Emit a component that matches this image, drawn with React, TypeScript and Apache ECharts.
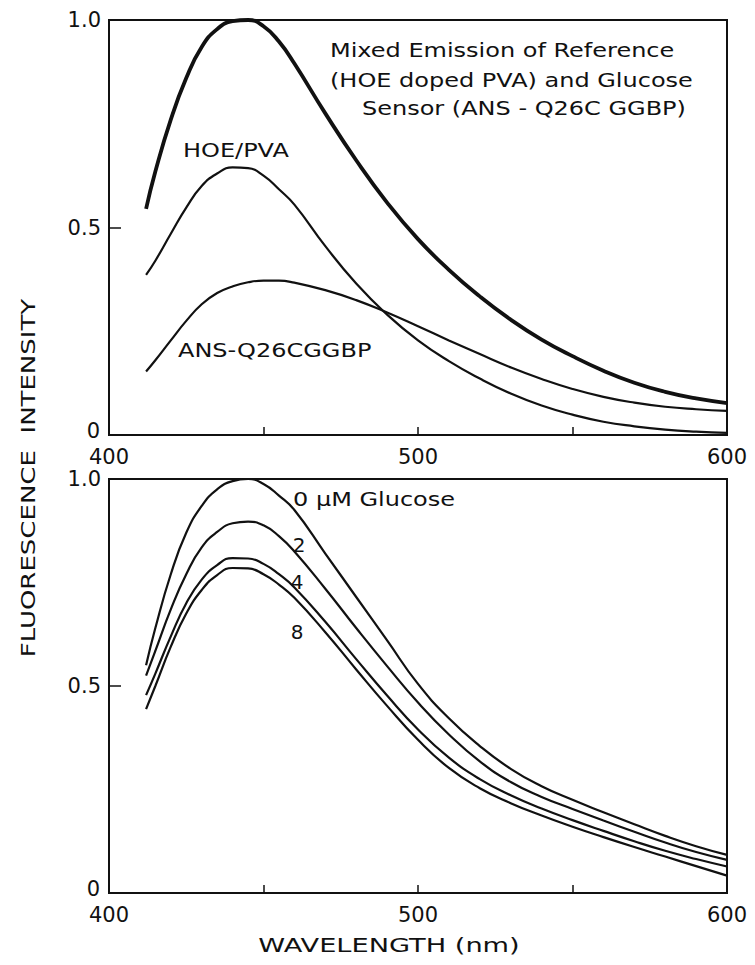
import React, { useEffect, useRef } from "react";
import * as echarts from "echarts";

const WAVELENGTHS = [412, 415, 420, 425, 430, 435, 440, 445, 450, 455, 460, 470, 480, 490, 500, 510, 520, 530, 540, 550, 560, 570, 580, 590, 600];

// Top panel
const MIXED = [0.545, 0.635, 0.76, 0.86, 0.935, 0.978, 0.997, 1.0, 0.985, 0.948, 0.895, 0.775, 0.662, 0.56, 0.472, 0.398, 0.334, 0.278, 0.23, 0.19, 0.155, 0.126, 0.104, 0.088, 0.077];
const HOE_PVA = [0.386, 0.42, 0.485, 0.548, 0.6, 0.63, 0.645, 0.643, 0.625, 0.592, 0.555, 0.455, 0.365, 0.29, 0.228, 0.178, 0.136, 0.1, 0.071, 0.049, 0.032, 0.021, 0.013, 0.008, 0.005];
const ANS_GGBP = [0.153, 0.18, 0.228, 0.275, 0.315, 0.342, 0.358, 0.368, 0.372, 0.372, 0.367, 0.349, 0.325, 0.295, 0.262, 0.228, 0.195, 0.163, 0.135, 0.111, 0.092, 0.078, 0.068, 0.062, 0.058];

// Bottom panel (glucose, µM)
const GLU_0 = [0.55, 0.64, 0.77, 0.87, 0.935, 0.975, 0.995, 1.0, 0.988, 0.96, 0.925, 0.82, 0.715, 0.61, 0.505, 0.422, 0.355, 0.3, 0.258, 0.225, 0.195, 0.166, 0.138, 0.113, 0.092];
const GLU_2 = [0.525, 0.585, 0.685, 0.77, 0.835, 0.872, 0.893, 0.897, 0.888, 0.862, 0.825, 0.735, 0.64, 0.548, 0.46, 0.383, 0.318, 0.268, 0.232, 0.203, 0.175, 0.148, 0.122, 0.099, 0.08];
const GLU_4 = [0.478, 0.53, 0.62, 0.7, 0.757, 0.792, 0.809, 0.808, 0.795, 0.77, 0.738, 0.655, 0.565, 0.477, 0.395, 0.327, 0.275, 0.236, 0.204, 0.176, 0.15, 0.125, 0.102, 0.082, 0.064];
const GLU_8 = [0.444, 0.5, 0.595, 0.675, 0.732, 0.768, 0.785, 0.784, 0.77, 0.745, 0.713, 0.63, 0.54, 0.452, 0.37, 0.302, 0.253, 0.217, 0.187, 0.16, 0.135, 0.111, 0.088, 0.065, 0.042];

const X_TICK_LABELS = [400, 500, 600];
const Y_TICK_LABELS = ["0", "0.5", "1.0"];

const FONT = '"DejaVu Sans", sans-serif';
const INK = "#111";

function pairs(ys: number[]) {
  return WAVELENGTHS.map((x, i) => [x, ys[i]]);
}

function lineSeries(name: string, ys: number[], idx: number, width: number) {
  return {
    name,
    type: "line",
    xAxisIndex: idx,
    yAxisIndex: idx,
    data: pairs(ys),
    smooth: 0.5,
    showSymbol: false,
    symbol: "none",
    lineStyle: { color: INK, width },
    z: 3,
  };
}

function xAxis(idx: number) {
  return {
    type: "value",
    gridIndex: idx,
    min: 400,
    max: 600,
    interval: 50,
    axisLine: { show: true, lineStyle: { color: INK, width: 2 } },
    axisTick: { show: true, inside: true, length: 8, lineStyle: { color: INK, width: 1.5 } },
    axisLabel: {
      color: INK,
      fontFamily: FONT,
      fontSize: 21,
      margin: 11,
      formatter: (v: number) => (X_TICK_LABELS.indexOf(v) >= 0 ? String(v) : ""),
    },
    splitLine: { show: false },
  };
}

function yAxis(idx: number) {
  return {
    type: "value",
    gridIndex: idx,
    min: 0,
    max: 1,
    interval: 0.5,
    axisLine: { show: true, lineStyle: { color: INK, width: 2 } },
    axisTick: { show: true, inside: true, length: 12, lineStyle: { color: INK, width: 1.5 } },
    axisLabel: {
      color: INK,
      fontFamily: FONT,
      fontSize: 21,
      margin: 8,
      showMinLabel: false,
      formatter: (v: number) => Y_TICK_LABELS[Math.round(v * 2)] ?? "",
    },
    splitLine: { show: false },
  };
}

function label(text: string, x: number, y: number, align: string = "left", sx: number = 1.2, size: number = 20) {
  return {
    type: "text",
    x,
    y,
    scaleX: sx,
    z: 10,
    style: {
      text,
      fill: INK,
      fontFamily: FONT,
      fontSize: size,
      align,
      verticalAlign: "middle",
      textAlign: align,
      textVerticalAlign: "middle",
    },
  };
}

export default function App() {
  const ref = useRef<HTMLDivElement>(null);

  useEffect(() => {
    document.body.style.margin = "0";
    if (!ref.current) return;
    const chart = echarts.init(ref.current, null, { renderer: "svg" });
    const option = {
      animation: false,
      backgroundColor: "#fff",
      grid: [
        { left: 109, top: 20, width: 618, height: 415, show: true, borderColor: INK, borderWidth: 2, backgroundColor: "transparent" },
        { left: 109, top: 479, width: 618, height: 414, show: true, borderColor: INK, borderWidth: 2, backgroundColor: "transparent" },
      ],
      xAxis: [xAxis(0), xAxis(1)],
      yAxis: [yAxis(0), yAxis(1)],
      series: [
        lineSeries("Mixed emission", MIXED, 0, 3.8),
        lineSeries("HOE/PVA", HOE_PVA, 0, 2.2),
        lineSeries("ANS-Q26CGGBP", ANS_GGBP, 0, 2.2),
        lineSeries("0 µM Glucose", GLU_0, 1, 2.2),
        lineSeries("2 µM Glucose", GLU_2, 1, 2.2),
        lineSeries("4 µM Glucose", GLU_4, 1, 2.2),
        lineSeries("8 µM Glucose", GLU_8, 1, 2.2),
      ],
      graphic: [
        label(Y_TICK_LABELS[0], 100, 431, "right", 1, 21),
        label(Y_TICK_LABELS[0], 100, 889, "right", 1, 21),
        label("Mixed Emission of Reference", 330, 50),
        label("(HOE doped PVA) and Glucose", 330, 80),
        label("Sensor (ANS - Q26C GGBP)", 362, 108),
        label("HOE/PVA", 183, 150),
        label("ANS-Q26CGGBP", 178, 350),
        label("0 µM Glucose", 293, 499),
        label("2", 299, 545, "center", 1),
        label("4", 297, 582, "center", 1),
        label("8", 297, 632, "center", 1),
        label("WAVELENGTH (nm)", 389, 945, "center", 1.36),
        { ...label("FLUORESCENCE  INTENSITY", 28, 478, "center", 1.3), rotation: Math.PI / 2 },
      ],
    };
    chart.setOption(option as any);
    return () => chart.dispose();
  }, []);

  return <div ref={ref} style={{ width: 755, height: 965 }} />;
}
